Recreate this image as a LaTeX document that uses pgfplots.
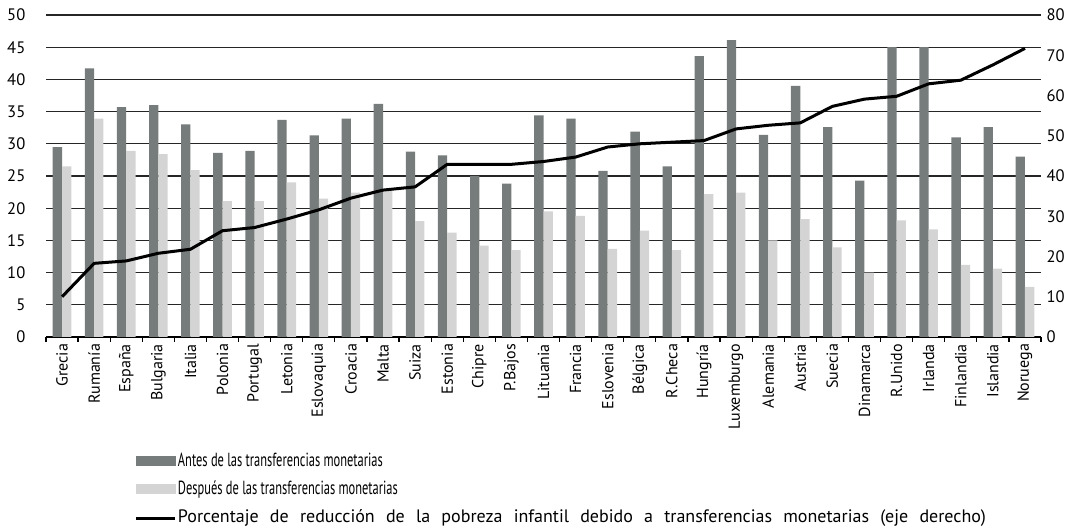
\documentclass[border=0pt]{standalone}
\usepackage{fontspec}
\setmainfont{PT Sans}
\newfontfamily\narrowfont[FakeStretch=0.655]{PT Sans}
\usepackage{pgfplots}
\pgfplotsset{compat=1.18}
\definecolor{darkbar}{HTML}{767B7B}
\definecolor{lightbar}{HTML}{D3D4D3}

\pgfplotstableread{
x antes despues red
0 29.5 26.5 10.0
1 41.7 33.9 18.3
2 35.7 28.9 18.9
3 36.0 28.4 20.8
4 33.0 25.9 21.8
5 28.6 21.1 26.4
6 28.9 21.1 27.2
7 33.7 24.0 29.3
8 31.3 21.5 31.6
9 33.9 22.4 34.5
10 36.2 22.7 36.5
11 28.8 18.0 37.3
12 28.2 16.2 42.9
13 25.0 14.2 42.9
14 23.8 13.5 42.9
15 34.4 19.5 43.6
16 33.9 18.8 44.7
17 25.8 13.7 47.2
18 31.9 16.5 48.0
19 26.5 13.5 48.4
20 43.6 22.2 48.8
21 46.1 22.4 51.7
22 31.4 15.0 52.6
23 39.0 18.3 53.2
24 32.6 13.9 57.3
25 24.3 10.0 59.1
26 45.0 18.1 59.8
27 45.0 16.7 62.9
28 31.0 11.2 63.8
29 32.6 10.6 67.6
30 28.0 7.8 71.7
}\datatable

\begin{document}
\begin{tikzpicture}
\useasboundingbox (0,0) rectangle (534pt,264.5pt);
\begin{axis}[
  at={(23pt,96pt)}, anchor=south west,
  scale only axis, width=497.5pt, height=161pt,
  xmin=-0.5, xmax=30.5, ymin=0, ymax=50,
  ybar=0pt, bar width=4.65pt,
  axis x line*=bottom, axis y line*=left,
  y axis line style={draw=none},
  x axis line style={-, line width=0.6pt, black},
  ytick={0,5,...,50}, ytick style={draw=none},
  ymajorgrids, grid style={black!85, line width=0.6pt},
  xtick={0,...,30},
  xticklabels={Grecia,Rumanía,España,Bulgaria,Italia,Polonia,Portugal,Letonia,Eslovaquia,Croacia,Malta,Suiza,Estonia,Chipre,P.Bajos,Lituania,Francia,Eslovenia,Bélgica,R.Checa,Hungría,Luxemburgo,Alemania,Austria,Suecia,Dinamarca,R.Unido,Irlanda,Finlandia,Islandia,Noruega},
  major tick length=0pt,
  minor xtick={-0.5,0.5,...,30.5},
  minor tick length=2.5pt, tick align=outside,
  minor x tick style={black, line width=0.6pt},
  x tick label style={rotate=90, anchor=east, font=\fontsize{8}{9}\selectfont, yshift=0pt},
  y tick label style={font=\fontsize{8.3}{9}\selectfont, xshift=-6.8pt},
  /pgf/number format/assume math mode=true,
]
\addplot[fill=darkbar, draw=none] table[x=x, y=antes] {\datatable};
\addplot[fill=lightbar, draw=none] table[x=x, y=despues] {\datatable};
\end{axis}
\begin{axis}[
  at={(23pt,96pt)}, anchor=south west,
  scale only axis, width=497.5pt, height=161pt,
  xmin=-0.5, xmax=30.5, ymin=0, ymax=80,
  axis y line*=right, axis x line=none,
  y axis line style={draw=none},
  ytick={0,10,...,80}, ytick style={draw=none}, major tick length=0pt,
  y tick label style={font=\fontsize{8.3}{9}\selectfont, xshift=-0.7pt},
  /pgf/number format/assume math mode=true,
  legend cell align=left,
  legend style={at={(0.0894,-0.3624)}, anchor=north west, draw=none, fill=none,
    inner sep=0pt, outer sep=0pt, row sep=5.5pt,
    nodes={inner sep=0.5pt, text height=6pt, text depth=1.5pt, font=\fontsize{9}{10}\selectfont}},
]
\addlegendimage{legend image code/.code={\fill[darkbar] (0pt,-1.5pt) rectangle (19.5pt,3pt);}}
\addlegendentry{\fontsize{9.5}{10}\narrowfont Antes de las transferencias monetarias}
\addlegendimage{legend image code/.code={\fill[lightbar] (0pt,-1.5pt) rectangle (19.5pt,3pt);}}
\addlegendentry{\fontsize{9.5}{10}\narrowfont Después de las transferencias monetarias}
\addplot[black, line width=1.5pt, line join=round, mark=none,
  legend image code/.code={\draw[black, line width=1.5pt] (0pt,0pt) -- (19.5pt,0pt);}]
  table[x=x, y=red] {\datatable};
\addlegendentry{\makebox[404pt][s]{Porcentaje de reducción de la pobreza infantil debido a transferencias monetarias (eje derecho)}}
\end{axis}
\end{tikzpicture}
\end{document}
